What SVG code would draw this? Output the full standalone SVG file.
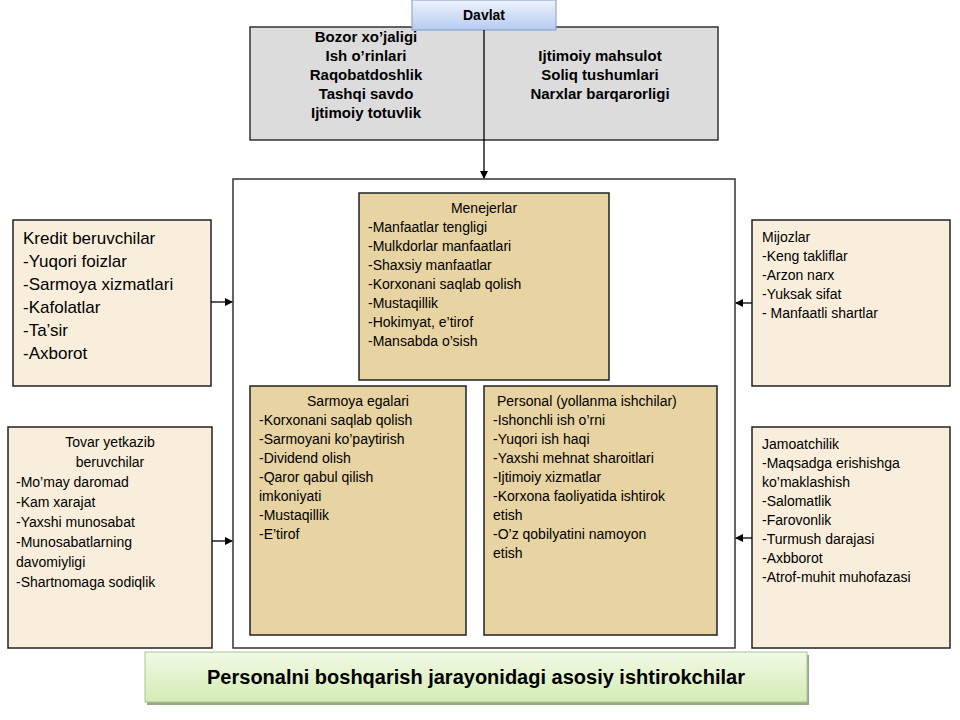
<svg xmlns="http://www.w3.org/2000/svg" width="960" height="720" viewBox="0 0 960 720">
<defs>
<linearGradient id="blue" x1="0" y1="0" x2="0" y2="1"><stop offset="0" stop-color="#eef3fc"/><stop offset="1" stop-color="#b7cbf0"/></linearGradient>
<linearGradient id="green" x1="0" y1="0" x2="0" y2="1"><stop offset="0" stop-color="#f2f9e6"/><stop offset="1" stop-color="#d3ecb4"/></linearGradient>
<marker id="ah" markerWidth="8" markerHeight="8" refX="7" refY="4" orient="auto" markerUnits="userSpaceOnUse"><path d="M0,0 L8,4 L0,8 Z" fill="#000"/></marker>
<style>
.t{font-family:"Liberation Sans",Arial,sans-serif;font-size:14px;fill:#000}
.b{font-weight:bold}
.g{font-size:15px}
.pap{fill:#e8d3a2;stroke:#222;stroke-width:1.5}
.lt{fill:#f9eedb;stroke:#222;stroke-width:1.5}
.c{stroke:#000;stroke-width:1.3;fill:none}
</style>
</defs>
<rect width="960" height="720" fill="#fff"/>
<g id="gray"><rect x="250" y="27" width="468" height="113" fill="#dcdcdc" stroke="#333" stroke-width="1.5"/>
<text class="t b g" text-anchor="middle" x="366" y="42">Bozor xo’jaligi</text>
<text class="t b g" text-anchor="middle" x="366" y="61">Ish o’rinlari</text>
<text class="t b g" text-anchor="middle" x="366" y="80">Raqobatdoshlik</text>
<text class="t b g" text-anchor="middle" x="366" y="99">Tashqi savdo</text>
<text class="t b g" text-anchor="middle" x="366" y="118">Ijtimoiy totuvlik</text>
<text class="t b g" text-anchor="middle" x="600" y="61">Ijtimoiy mahsulot</text>
<text class="t b g" text-anchor="middle" x="600" y="80">Soliq tushumlari</text>
<text class="t b g" text-anchor="middle" x="600" y="99">Narxlar barqarorligi</text></g>
<g id="davlat"><rect x="412" y="0" width="144" height="30" fill="url(#blue)" stroke="#7f9cc8"/>
<text class="t b" text-anchor="middle" x="484" y="20">Davlat</text></g>
<g id="outer"><rect x="233" y="179" width="502" height="469" fill="#fff" stroke="#333" stroke-width="1.5"/></g>
<g id="menejerlar"><rect class="pap" x="359" y="193" width="250" height="187"/>
<text class="t" text-anchor="middle" x="484" y="213">Menejerlar</text>
<text class="t" x="368" y="232">-Manfaatlar tengligi</text>
<text class="t" x="368" y="251">-Mulkdorlar manfaatlari</text>
<text class="t" x="368" y="270">-Shaxsiy manfaatlar</text>
<text class="t" x="368" y="289">-Korxonani saqlab qolish</text>
<text class="t" x="368" y="308">-Mustaqillik</text>
<text class="t" x="368" y="327">-Hokimyat, e’tirof</text>
<text class="t" x="368" y="346">-Mansabda o’sish</text></g>
<g id="sarmoya"><rect class="pap" x="250" y="386" width="216" height="249"/>
<text class="t" text-anchor="middle" x="358" y="406">Sarmoya egalari</text>
<text class="t" x="259" y="425">-Korxonani saqlab qolish</text>
<text class="t" x="259" y="444">-Sarmoyani ko’paytirish</text>
<text class="t" x="259" y="463">-Dividend olish</text>
<text class="t" x="259" y="482">-Qaror qabul qilish</text>
<text class="t" x="259" y="501">imkoniyati</text>
<text class="t" x="259" y="520">-Mustaqillik</text>
<text class="t" x="259" y="539">-E’tirof</text></g>
<g id="personal"><rect class="pap" x="484" y="386" width="233" height="249"/>
<text class="t" x="497" y="406">Personal (yollanma ishchilar)</text>
<text class="t" x="493" y="425">-Ishonchli ish o’rni</text>
<text class="t" x="493" y="444">-Yuqori ish haqi</text>
<text class="t" x="493" y="463">-Yaxshi mehnat sharoitlari</text>
<text class="t" x="493" y="482">-Ijtimoiy xizmatlar</text>
<text class="t" x="493" y="501">-Korxona faoliyatida ishtirok</text>
<text class="t" x="493" y="520">etish</text>
<text class="t" x="493" y="539">-O’z qobilyatini namoyon</text>
<text class="t" x="493" y="558">etish</text></g>
<g id="kredit"><rect class="lt" x="13" y="220" width="198" height="166"/>
<text class="t" style="font-size:17px" x="23" y="244">Kredit beruvchilar</text>
<text class="t" style="font-size:17px" x="23" y="267">-Yuqori foizlar</text>
<text class="t" style="font-size:17px" x="23" y="290">-Sarmoya xizmatlari</text>
<text class="t" style="font-size:17px" x="23" y="313">-Kafolatlar</text>
<text class="t" style="font-size:17px" x="23" y="336">-Ta’sir</text>
<text class="t" style="font-size:17px" x="23" y="359">-Axborot</text></g>
<g id="tovar"><rect class="lt" x="8" y="427" width="204" height="221"/>
<text class="t" text-anchor="middle" x="110" y="447">Tovar yetkazib</text>
<text class="t" text-anchor="middle" x="110" y="467">beruvchilar</text>
<text class="t" x="16" y="487">-Mo’may daromad</text>
<text class="t" x="16" y="507">-Kam xarajat</text>
<text class="t" x="16" y="527">-Yaxshi munosabat</text>
<text class="t" x="16" y="547">-Munosabatlarning</text>
<text class="t" x="16" y="567">davomiyligi</text>
<text class="t" x="16" y="587">-Shartnomaga sodiqlik</text></g>
<g id="mijozlar"><rect class="lt" x="752" y="220" width="198" height="166"/>
<text class="t" x="762" y="242">Mijozlar</text>
<text class="t" x="762" y="261">-Keng takliflar</text>
<text class="t" x="762" y="280">-Arzon narx</text>
<text class="t" x="762" y="299">-Yuksak sifat</text>
<text class="t" x="762" y="318">- Manfaatli  shartlar</text></g>
<g id="jamoat"><rect class="lt" x="752" y="427" width="198" height="221"/>
<text class="t" x="762" y="449">Jamoatchilik</text>
<text class="t" x="762" y="468">-Maqsadga erishishga</text>
<text class="t" x="762" y="487">ko’maklashish</text>
<text class="t" x="762" y="506">-Salomatlik</text>
<text class="t" x="762" y="525">-Farovonlik</text>
<text class="t" x="762" y="544">-Turmush darajasi</text>
<text class="t" x="762" y="563">-Axbborot</text>
<text class="t" x="762" y="582">-Atrof-muhit muhofazasi</text></g>
<g id="banner"><rect x="147" y="655" width="662" height="50" fill="#9aa88a"/>
<rect x="145" y="652" width="662" height="50" fill="url(#green)" stroke="#a8c890"/>
<text class="t b" style="font-size:20px" text-anchor="middle" x="476" y="684">Personalni boshqarish jarayonidagi asosiy ishtirokchilar</text></g>
<g id="connectors">
<line class="c" x1="484" y1="30" x2="484" y2="178" marker-end="url(#ah)"/>
<line class="c" x1="211" y1="302" x2="232" y2="302" marker-end="url(#ah)"/>
<line class="c" x1="212" y1="541" x2="232" y2="541" marker-end="url(#ah)"/>
<line class="c" x1="752" y1="303" x2="736" y2="303" marker-end="url(#ah)"/>
<line class="c" x1="752" y1="538" x2="736" y2="538" marker-end="url(#ah)"/>
</g>
</svg>
